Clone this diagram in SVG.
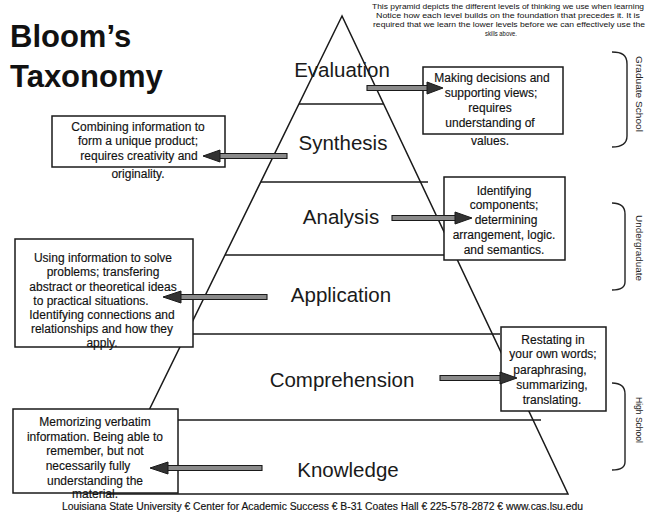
<svg xmlns="http://www.w3.org/2000/svg" width="648" height="516" viewBox="0 0 648 516">
<style>
.bg{fill:#ffffff}
.pyr{fill:none;stroke:#1a1a1a;stroke-width:1.5}
.lvl{fill:none;stroke:#1a1a1a;stroke-width:1.3}
.box{fill:#ffffff;stroke:#1a1a1a;stroke-width:1.5}
.bt{font-family:"Liberation Sans",Arial,sans-serif;font-size:12px;fill:#111;text-anchor:middle;stroke:#111;stroke-width:0.15}
.lv{font-family:"Liberation Sans",Arial,sans-serif;font-size:20.5px;fill:#1a1a1a;text-anchor:middle}
.title{font-family:"Liberation Sans",Arial,sans-serif;font-size:31px;font-weight:bold;fill:#111}
.note{font-family:"Liberation Sans",Arial,sans-serif;font-size:7px;fill:#111;text-anchor:middle}
.foot{font-family:"Liberation Sans",Arial,sans-serif;font-size:10px;fill:#111;stroke:#111;stroke-width:0.15}
.side{font-family:"Liberation Sans",Arial,sans-serif;font-size:9px;fill:#222}
.brk{fill:none;stroke:#222;stroke-width:1.4}
.arr{fill:#8a8a8a;stroke:#1a1a1a;stroke-width:1.1}
.ahd{fill:#333;stroke:#1a1a1a;stroke-width:1}
</style>
<rect class="bg" x="0" y="0" width="648" height="516"/>

<g id="pyramid">
<polygon class="pyr" points="342,16 108,494 568,494"/>
<line class="lvl" x1="299" y1="104" x2="384" y2="104"/>
<line class="lvl" x1="261" y1="182" x2="428" y2="182"/>
<line class="lvl" x1="225" y1="255" x2="462" y2="255"/>
<line class="lvl" x1="187" y1="334" x2="500" y2="334"/>
<line class="lvl" x1="144" y1="420" x2="541" y2="420"/>
</g>

<g id="title">
<text class="title" x="10" y="47">Bloom’s</text>
<text class="title" x="10" y="87">Taxonomy</text>
</g>

<g id="note">
<text class="note" x="508" y="9" textLength="272" lengthAdjust="spacingAndGlyphs">This pyramid depicts the different levels of thinking we use when learning</text>
<text class="note" x="508" y="18" textLength="264" lengthAdjust="spacingAndGlyphs">Notice how each level builds on the foundation that precedes it.  It is</text>
<text class="note" x="509" y="27" textLength="272" lengthAdjust="spacingAndGlyphs">required that we learn the lower levels before we can effectively use the</text>
<text class="note" x="501" y="36" textLength="32" lengthAdjust="spacingAndGlyphs">skills above.</text>
</g>

<g id="level-labels">
<text class="lv" x="342" y="77">Evaluation</text>
<text class="lv" x="343" y="150">Synthesis</text>
<text class="lv" x="341" y="224">Analysis</text>
<text class="lv" x="341" y="302">Application</text>
<text class="lv" x="342" y="387">Comprehension</text>
<text class="lv" x="348" y="477">Knowledge</text>
</g>

<g id="box-evaluation">
<rect class="box" x="423" y="67" width="140" height="67"/>
<text class="bt" x="492" y="82">Making decisions and</text>
<text class="bt" x="491" y="97">supporting views;</text>
<text class="bt" x="490" y="112">requires</text>
<text class="bt" x="490" y="127">understanding of</text>
<text class="bt" x="490" y="145">values.</text>
</g>

<g id="box-synthesis">
<rect class="box" x="52" y="116" width="173" height="51"/>
<text class="bt" x="138" y="131">Combining information to</text>
<text class="bt" x="138" y="145">form a unique product;</text>
<text class="bt" x="139" y="160">requires creativity and</text>
<text class="bt" x="138" y="178">originality.</text>
</g>

<g id="box-analysis">
<rect class="box" x="444" y="177" width="121" height="83"/>
<text class="bt" x="504" y="195">Identifying</text>
<text class="bt" x="504" y="209">components;</text>
<text class="bt" x="506" y="224">determining</text>
<text class="bt" x="504" y="239">arrangement, logic.</text>
<text class="bt" x="504" y="254">and semantics.</text>
</g>

<g id="box-application">
<rect class="box" x="15" y="239" width="178" height="108"/>
<text class="bt" x="103" y="262">Using information to solve</text>
<text class="bt" x="103" y="276">problems; transfering</text>
<text class="bt" x="103" y="291">abstract or theoretical ideas</text>
<text class="bt" x="91" y="305">to practical situations.</text>
<text class="bt" x="102" y="319">Identifying connections and</text>
<text class="bt" x="102" y="333">relationships and how they</text>
<text class="bt" x="102" y="347">apply.</text>
</g>

<g id="box-comprehension">
<rect class="box" x="501" y="327" width="105" height="84"/>
<text class="bt" x="553" y="344">Restating in</text>
<text class="bt" x="553" y="358">your own words;</text>
<text class="bt" x="550" y="374">paraphrasing,</text>
<text class="bt" x="552" y="389">summarizing,</text>
<text class="bt" x="552" y="404">translating.</text>
</g>

<g id="box-knowledge">
<rect class="box" x="13" y="409" width="165" height="84"/>
<text class="bt" x="95" y="426">Memorizing verbatim</text>
<text class="bt" x="95" y="441">information. Being able to</text>
<text class="bt" x="95" y="455">remember, but not</text>
<text class="bt" x="88" y="470">necessarily fully</text>
<text class="bt" x="95" y="485">understanding the</text>
<text class="bt" x="95" y="498">material.</text>
</g>

<g id="connectors">
<polygon class="arr" points="367,85.5 429,85.5 429,90.5 367,90.5"/>
<polygon class="ahd" points="427,82 443,88 427,94"/>
<polygon class="arr" points="287,153.5 219,153.5 219,158.5 287,158.5"/>
<polygon class="ahd" points="220,150 203,156 220,162"/>
<polygon class="arr" points="392,215.5 457,215.5 457,220.5 392,220.5"/>
<polygon class="ahd" points="455,212 472,218 455,224"/>
<polygon class="arr" points="267,294.5 179,294.5 179,299.5 267,299.5"/>
<polygon class="ahd" points="181,291 163,297 181,303"/>
<polygon class="arr" points="440,375.5 502,375.5 502,380.5 440,380.5"/>
<polygon class="ahd" points="500,372 517,378 500,384"/>
<polygon class="arr" points="262,465.5 166,465.5 166,470.5 262,470.5"/>
<polygon class="ahd" points="168,462 150,468 168,474"/>
</g>

<g id="bracket-graduate">
<path class="brk" d="M612,52 C622,52 627,55 627,64 L627,136 C627,144 622,147 612,147"/>
<text class="side" transform="translate(636,56) rotate(90)" textLength="76" lengthAdjust="spacingAndGlyphs">Graduate School</text>
</g>

<g id="bracket-undergraduate">
<path class="brk" d="M612,203 C620,203 625,206 625,214 L625,282 C625,288 620,290 612,290"/>
<text class="side" transform="translate(636,215) rotate(90)" textLength="66" lengthAdjust="spacingAndGlyphs">Undergraduate</text>
</g>

<g id="bracket-highschool">
<path class="brk" d="M612,383 C620,383 625,386 625,394 L625,462 C625,468 620,470 612,470"/>
<text class="side" transform="translate(636,397) rotate(90)" textLength="46" lengthAdjust="spacingAndGlyphs">High School</text>
</g>

<g id="footer">
<text class="foot" x="62" y="510" textLength="521" lengthAdjust="spacingAndGlyphs">Louisiana State University € Center for Academic Success € B-31 Coates Hall € 225-578-2872 € www.cas.lsu.edu</text>
</g>
</svg>
